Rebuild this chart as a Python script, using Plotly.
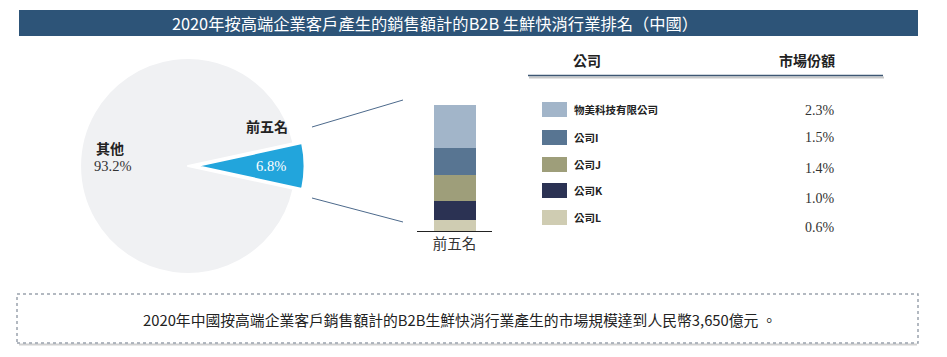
import plotly.graph_objects as go

W, H = 947, 357

# ---- data ----
title_text = "2020年按高端企業客戶產生的銷售額計的B2B 生鮮快消行業排名（中國）"
footer_text = "2020年中國按高端企業客戶銷售額計的B2B生鮮快消行業產生的市場規模達到人民幣3,650億元 。"
pie_labels = ["前五名", "其他"]
pie_values = [6.8, 93.2]
pie_colors = ["#22a5dc", "#f0f1f3"]

companies = ["物美科技有限公司", "公司I", "公司J", "公司K", "公司L"]
shares = [2.3, 1.5, 1.4, 1.0, 0.6]
company_colors = ["#a2b5c9", "#587592", "#9e9e7a", "#2b3253", "#cfccb2"]
bar_category = "前五名"
table_headers = ["公司", "市場份額"]

CJK = "Noto Sans CJK TC, sans-serif"
SERIF = "Liberation Serif, Noto Sans CJK TC, serif"


def px(x):
    return x / W


def py(y):
    return 1 - y / H


def ann(x, y, text, font, xanchor="center"):
    return dict(xref="paper", yref="paper", x=px(x), y=py(y), text=text, showarrow=False,
                xanchor=xanchor, yanchor="middle", font=font)


fig = go.Figure()

# pie
pull = 0.08
r = 107
cx, cy = 188, 166
half = r * (1 + pull) + 1
fig.add_trace(go.Pie(
    labels=pie_labels, values=pie_values, sort=False, direction="clockwise",
    rotation=90 - pie_values[0] * 3.6 / 2,
    marker=dict(colors=pie_colors, line=dict(color="white", width=2)),
    pull=[pull, 0], textinfo="none", hoverinfo="label+percent",
    domain=dict(x=[px(cx - half), px(cx + half)], y=[py(cy + half), py(cy - half)]),
    showlegend=False,
))

# stacked bar (bottom to top: L, K, J, I, 物美)
for name, val, col in reversed(list(zip(companies, shares, company_colors))):
    fig.add_trace(go.Bar(
        x=[bar_category], y=[val], name=name, marker=dict(color=col, line=dict(width=0)),
        width=0.56, showlegend=False, hoverinfo="name+y",
    ))

fig.update_layout(
    width=W, height=H, margin=dict(l=0, r=0, t=0, b=0),
    paper_bgcolor="white", plot_bgcolor="rgba(0,0,0,0)",
    barmode="stack",
    xaxis=dict(domain=[px(417), px(492)], showline=True, linecolor="#222", linewidth=1,
               ticks="", showgrid=False, zeroline=False,
               tickfont=dict(family=SERIF, size=14.5, color="#333")),
    yaxis=dict(domain=[py(231), py(105)], range=[0, sum(shares)], visible=False,
               showgrid=False, zeroline=False),
)

shapes = []
annotations = []

# title bar
shapes.append(dict(type="rect", xref="paper", yref="paper", x0=px(19), x1=px(918), y0=py(36), y1=py(10),
                   fillcolor="#2d5478", line=dict(width=0), layer="below"))
annotations.append(ann(435, 23, title_text, dict(family=CJK, size=16.3, color="white")))

# connector lines
shapes.append(dict(type="line", xref="paper", yref="paper", x0=px(312), y0=py(127), x1=px(403), y1=py(100),
                   line=dict(color="#4d6a8c", width=1)))
shapes.append(dict(type="line", xref="paper", yref="paper", x0=px(312), y0=py(198), x1=px(403), y1=py(222),
                   line=dict(color="#4d6a8c", width=1)))

# pie labels
annotations.append(ann(110, 148, "<b>" + pie_labels[1] + "</b>", dict(family=CJK, size=14, color="#222")))
annotations.append(ann(112, 166, f"{pie_values[1]:.1f}%", dict(family=SERIF, size=14.5, color="#333")))
annotations.append(ann(267, 126, "<b>" + pie_labels[0] + "</b>", dict(family=CJK, size=14, color="#222")))
annotations.append(ann(271, 166, f"{pie_values[0]:.1f}%", dict(family=SERIF, size=14.5, color="white")))

# table header
annotations.append(ann(587, 60, "<b>" + table_headers[0] + "</b>", dict(family=CJK, size=14, color="#222")))
annotations.append(ann(807, 60, "<b>" + table_headers[1] + "</b>", dict(family=CJK, size=14, color="#222")))
shapes.append(dict(type="line", xref="paper", yref="paper", x0=px(529), x1=px(884), y0=py(77.5), y1=py(77.5),
                   line=dict(color="#c8c8c8", width=2)))
shapes.append(dict(type="line", xref="paper", yref="paper", x0=px(528), x1=px(883), y0=py(75.5), y1=py(75.5),
                   line=dict(color="#3e5773", width=1.5)))

# legend rows
sq_top = [102, 130, 157, 183, 210]
val_y = [110, 138, 168, 198, 227]
for i, (name, val, col) in enumerate(zip(companies, shares, company_colors)):
    t = sq_top[i]
    shapes.append(dict(type="rect", xref="paper", yref="paper", x0=px(542), x1=px(567), y0=py(t + 15), y1=py(t),
                       fillcolor=col, line=dict(width=0)))
    annotations.append(ann(572, t + 7.5, "<b>" + name + "</b>", dict(family=CJK, size=10.5, color="#222"),
                           xanchor="left"))
    annotations.append(ann(837, val_y[i], f"{val:.1f}%", dict(family=SERIF, size=14, color="#333"),
                           xanchor="right"))

# footer box
shapes.append(dict(type="line", xref="paper", yref="paper", x0=px(19), x1=px(917), y0=py(344.5), y1=py(344.5),
                   line=dict(color="#d0d0d0", width=2)))
shapes.append(dict(type="rect", xref="paper", yref="paper", x0=px(17), x1=px(918), y0=py(343), y1=py(294),
                   fillcolor="white", line=dict(color="#9aa3ad", width=1.5, dash="dot")))
annotations.append(ann(459, 319, footer_text, dict(family=CJK, size=14.8, color="#222")))

fig.update_layout(shapes=shapes, annotations=annotations)
fig.write_html("out.html", config={"displayModeBar": False},
               post_script="document.body.style.margin='0';")
